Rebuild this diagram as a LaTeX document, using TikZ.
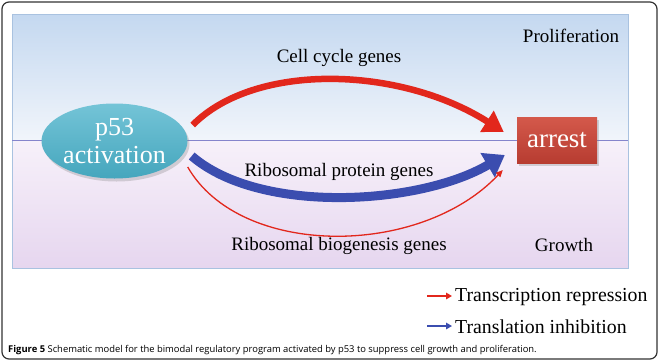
\documentclass[tikz,border=0pt]{standalone}
\usepackage{fontspec}
\setmainfont{Liberation Serif}
\newfontfamily\capfont{Open Sans}
\usetikzlibrary{arrows.meta,shapes.geometric,shadows,calc}
\definecolor{topA}{HTML}{C4D8F0}
\definecolor{topB}{HTML}{F1F5FB}
\definecolor{botA}{HTML}{F7F1FA}
\definecolor{botB}{HTML}{E6D6EF}
\definecolor{panelline}{HTML}{A9C2E0}
\definecolor{divline}{HTML}{8585CC}
\definecolor{tealA}{HTML}{74C4D7}
\definecolor{tealB}{HTML}{45A6BD}
\definecolor{boxA}{HTML}{D4594B}
\definecolor{boxB}{HTML}{B73C31}
\definecolor{arrred}{HTML}{E2271C}
\definecolor{arrblue}{HTML}{3B4DAF}
\tikzset{
  lbl/.style={font=\rmfamily\fontsize{19}{22}\selectfont, inner sep=0pt},
  leg/.style={font=\rmfamily\fontsize{19.8}{23}\selectfont, inner sep=0pt, anchor=west},
  bigred/.style={draw=arrred, line width=6.5pt, -{Triangle[length=20pt,width=24pt]}},
  bigblue/.style={draw=arrblue, line width=9pt, -{Triangle[length=20pt,width=27pt]}},
  thinred/.style={draw=arrred, line width=1.3pt, -{Triangle[length=7pt,width=6pt]}},
  legred/.style={draw=arrred, line width=2.3pt, -{Triangle[length=6pt,width=6.5pt]}},
  legblue/.style={draw=arrblue, line width=2.3pt, -{Triangle[length=6pt,width=6.5pt]}},
}
\begin{document}
\begin{tikzpicture}[x=1pt,y=-1pt]
\useasboundingbox (0,0) rectangle (660,362);
\fill[white] (0,0) rectangle (660,362);
% outer frame
\draw[line width=1.2pt, draw=black!80, rounded corners=7pt] (2,2) rectangle (657,359);
% panels
\shade[top color=topA, bottom color=topB] (12,14) rectangle (628,140);
\shade[top color=botA, bottom color=botB] (12,140) rectangle (628,268);
\draw[panelline, line width=0.8pt] (12,14) rectangle (628,268);
\draw[divline, line width=0.8pt] (12,140) -- (628,140);
% nodes
\node[ellipse, minimum width=146pt, minimum height=75pt, inner sep=0pt,
      top color=tealA, bottom color=tealB, draw=none,
      drop shadow={opacity=0.3, shadow xshift=2pt, shadow yshift=-3pt},
      text=white, align=center, font=\rmfamily\fontsize{26}{28}\selectfont]
      (p53) at (114.5,141) {p53\\activation};
\node[rectangle, minimum width=80pt, minimum height=46pt, inner sep=0pt,
      top color=boxA, bottom color=boxB, draw=none,
      drop shadow={opacity=0.3, shadow xshift=2pt, shadow yshift=-3pt},
      text=white, font=\rmfamily\fontsize{27}{30}\selectfont]
      (arrest) at (557,140) {arrest};
% connectors
\draw[bigred] ([shift={(5,-16)}]p53.east) .. controls (255,62) and (400,66) .. ([shift={(-13,-8)}]arrest.west);
\draw[bigblue] ([shift={(4,15)}]p53.east) .. controls (260,215) and (420,205) .. ([shift={(-12,15)}]arrest.west);
\draw[thinred] ([shift={(0,26)}]p53.east) .. controls (240,258) and (420,258) .. ([shift={(-14,30)}]arrest.west);
% labels
\node[lbl] (lcell) at (339,58) {Cell cycle genes};
\node[lbl] (lprot) at (339,172) {Ribosomal protein genes};
\node[lbl] (lbio) at (339,246) {Ribosomal biogenesis genes};
\node[lbl] (lprol) at (571,36) {Proliferation};
\node[lbl] (lgrow) at (564,245) {Growth};
% legend
\node[leg] (ltr) at (455,297) {Transcription repression};
\node[leg] (ltl) at (455,327) {Translation inhibition};
\coordinate (lra) at (427,296);
\coordinate (lba) at (427,326);
\draw[legred] (lra) -- ([xshift=-3pt]ltr.west |- lra);
\draw[legblue] (lba) -- ([xshift=-3pt]ltl.west |- lba);
% caption
\node[inner sep=0pt, anchor=west, font=\capfont\fontsize{9.4}{11}\selectfont] (cap) at (8,350)
  {\textbf{Figure 5} Schematic model for the bimodal regulatory program activated by p53 to suppress cell growth and proliferation.};
\end{tikzpicture}
\end{document}
